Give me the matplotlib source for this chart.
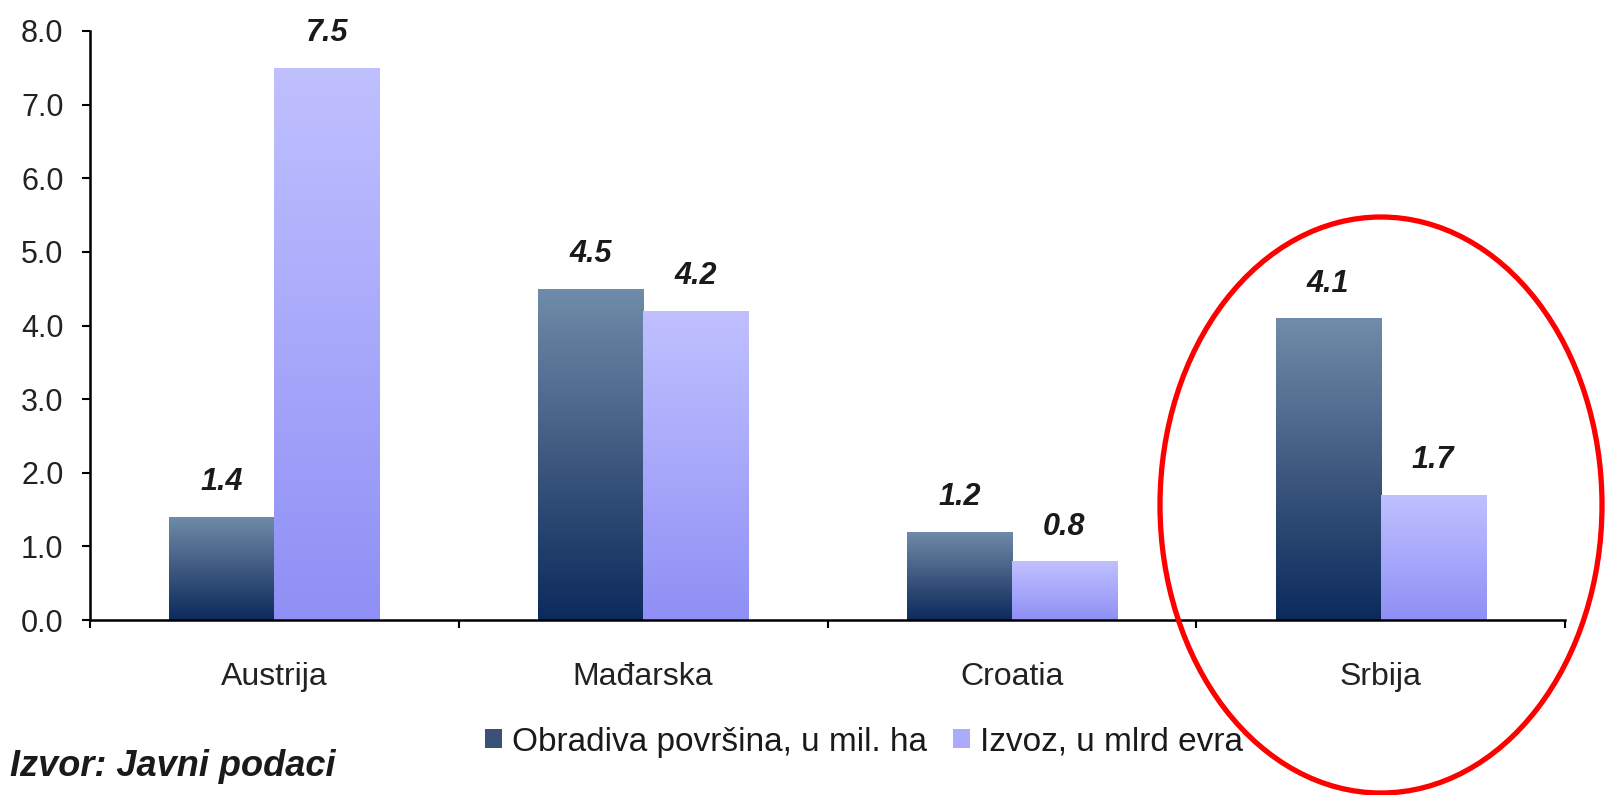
import numpy as np
import matplotlib
matplotlib.use("Agg")
import matplotlib.pyplot as plt
from matplotlib.colors import LinearSegmentedColormap
from matplotlib.patches import Ellipse, Patch

categories = ["Austrija", "Mađarska", "Croatia", "Srbija"]
area = [1.4, 4.5, 1.2, 4.1]          # Obradiva površina, u mil. ha
export = [7.5, 4.2, 0.8, 1.7]        # Izvoz, u mlrd evra
series_names = ["Obradiva površina, u mil. ha", "Izvoz, u mlrd evra"]
yticks = [0, 1, 2, 3, 4, 5, 6, 7, 8]
source = "Izvor: Javni podaci"

plt.rcParams['font.family'] = ['Liberation Sans', 'DejaVu Sans']
W, H = 1605, 795
fig = plt.figure(figsize=(W / 100, H / 100), dpi=100)
ax = fig.add_axes([90 / W, 175 / H, 1475 / W, 589 / H])

x = np.arange(len(categories))
w = 0.285
dark_cmap = LinearSegmentedColormap.from_list("d", ["#0c2a5c", "#3e5a80", "#708caa"])
light_cmap = LinearSegmentedColormap.from_list("l", ["#8f8ff5", "#a8a8fb", "#c0c0ff"])

bars1 = ax.bar(x - w / 2, area, width=w, color="none", edgecolor="none")
bars2 = ax.bar(x + w / 2, export, width=w, color="none", edgecolor="none")
grad = np.linspace(0, 1, 256).reshape(-1, 1)
for bars, cmap in ((bars1, dark_cmap), (bars2, light_cmap)):
    for b in bars:
        x0, y0 = b.get_x(), b.get_y()
        im = ax.imshow(grad, cmap=cmap, origin="lower", aspect="auto",
                       extent=(x0, x0 + b.get_width(), y0, y0 + b.get_height()), zorder=2)
        im.set_clip_path(b)

for bars, vals in ((bars1, area), (bars2, export)):
    for b, v in zip(bars, vals):
        ax.annotate(f"{v:.1f}", (b.get_x() + b.get_width() / 2, b.get_height()),
                    xytext=(0, 14), textcoords="offset points", ha="center", va="bottom",
                    fontsize=22, fontweight="bold", fontstyle="italic", color="#1a1a1a")

ax.set_xlim(-0.5, len(categories) - 0.5)
ax.set_ylim(0, 8)
ax.set_yticks(yticks)
ax.set_yticklabels([f"{t:.1f}" for t in yticks])
ax.set_xticks(x)
ax.set_xticklabels(categories)
ax.set_xticks(np.arange(-0.5, len(categories), 1), minor=True)
ax.tick_params(axis="x", which="major", length=0, pad=30, labelsize=23, labelcolor="#222222")
ax.tick_params(axis="x", which="minor", length=6, width=1.5, direction="out", color="black")
ax.tick_params(axis="y", length=6, width=1.5, direction="out", pad=13, labelsize=22, labelcolor="#222222")
for s in ("top", "right"):
    ax.spines[s].set_visible(False)
for s in ("left", "bottom"):
    ax.spines[s].set_linewidth(1.8)
    ax.spines[s].set_color("black")

handles = [Patch(facecolor="#3b5278", edgecolor="none"), Patch(facecolor="#ababfb", edgecolor="none")]
fig.legend(handles, series_names, loc="center", bbox_to_anchor=(864 / W, 1 - 742 / H),
           ncol=2, frameon=False, fontsize=24, handlelength=0.5, handleheight=0.5,
           handletextpad=0.3, columnspacing=0.8, labelcolor="#1a1a1a")

fig.text(10 / W, 1 - 766 / H, source, ha="left", va="center", fontsize=26,
         fontweight="bold", fontstyle="italic", color="#1a1a1a")

ell = Ellipse((1381 / W, 1 - 505 / H), 442 / W, 576 / H, transform=fig.transFigure,
              fill=False, edgecolor="#ff0000", linewidth=3.8, clip_on=False, zorder=10)
fig.add_artist(ell)

fig.savefig("out.png", dpi=100)
